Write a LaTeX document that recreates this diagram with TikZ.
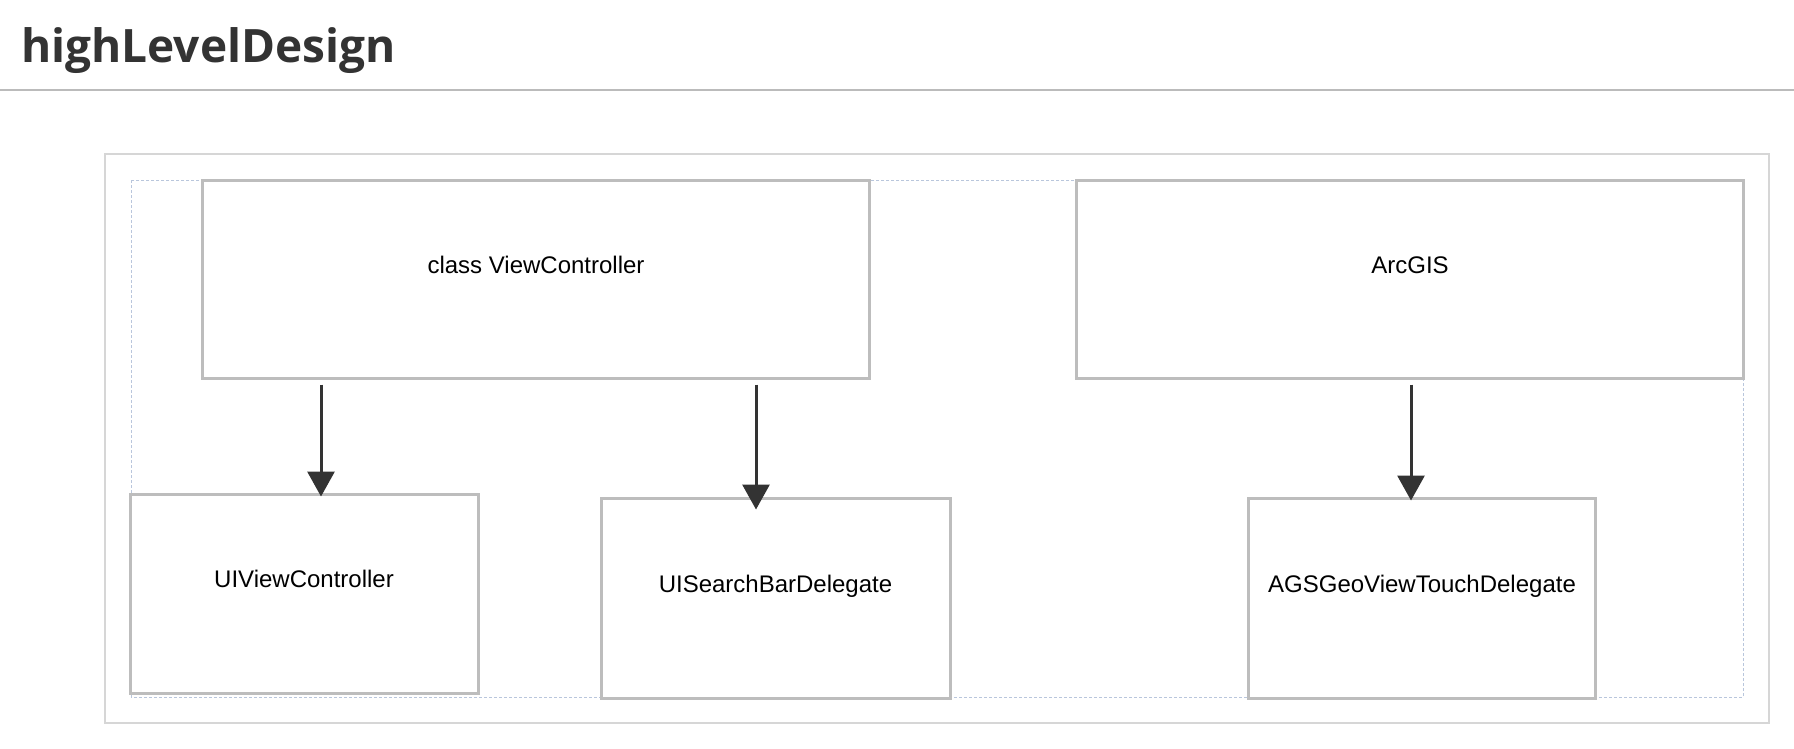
\documentclass[tikz,border=0pt]{standalone}
\usepackage{fontspec}
\setmainfont{Liberation Sans}
\newfontfamily\titlefont{Open Sans}
\usetikzlibrary{arrows.meta}

\definecolor{boxgray}{HTML}{BDBDBD}
\definecolor{ink}{HTML}{333333}
\definecolor{framegray}{HTML}{D6D6D6}
\definecolor{rulegray}{HTML}{BBBBBB}
\definecolor{dotblue}{HTML}{B9C6DC}

\tikzset{
  classbox/.style={rectangle, draw=boxgray, line width=3pt, fill=white, inner sep=0pt,
    font=\fontsize{24}{28}\selectfont, text height=0pt, text depth=12pt},
  uses/.style={draw=ink, line width=3pt, -{Triangle[length=25pt,width=27pt]}},
}

\begin{document}
\begin{tikzpicture}[x=1pt,y=-1pt]
      \useasboundingbox[fill=white] (0,0) rectangle (1794,748);
      % heading
      \node[anchor=base west, inner sep=0pt, text=ink,
            font=\titlefont\bfseries\fontsize{46}{55}\selectfont] (title) at (21,62) {highLevelDesign};
      \draw[rulegray, line width=2pt] (0,90) -- (1794,90);
      % frame and group
      \draw[framegray, line width=1.5pt] (105,154) rectangle (1769,723);
      \draw[dotblue, line width=1pt, dash pattern=on 3pt off 2pt] (131,180) rectangle (1743,697);
      % top row
      \node[classbox, minimum width=667pt, minimum height=198pt] (vc) at (536,279) {class ViewController};
      \node[classbox, minimum width=667pt, minimum height=198pt] (arc) at (1410,279) {ArcGIS};
      % bottom row
      \node[classbox, minimum width=348pt, minimum height=199pt] (uivc) at (304,593.5) {UIViewController};
      \node[classbox, minimum width=349pt, minimum height=200pt] (sbd) at (775.5,598) {UISearchBarDelegate};
      \node[classbox, minimum width=347pt, minimum height=200pt] (ags) at (1422,598) {AGSGeoViewTouchDelegate};
      % arrows
      \draw[uses, shorten <=5pt, shorten >=-4pt] ([xshift=120pt]vc.south west) -- ([xshift=120pt]vc.south west |- uivc.north);
      \draw[uses, shorten <=5pt, shorten >=-13pt] ([xshift=555pt]vc.south west) -- ([xshift=555pt]vc.south west |- sbd.north);
      \draw[uses, shorten <=5pt, shorten >=-4pt] ([xshift=336pt]arc.south west) -- ([xshift=336pt]arc.south west |- ags.north);
\end{tikzpicture}
\end{document}
